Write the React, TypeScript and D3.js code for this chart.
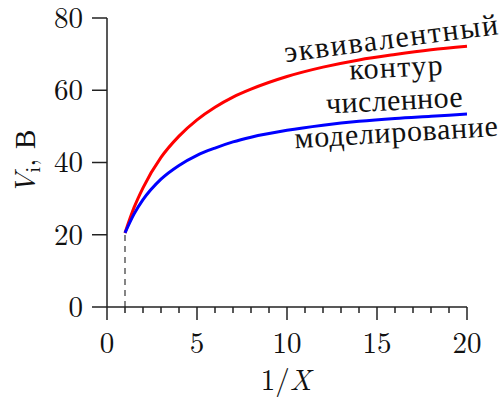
import React from 'react';
import * as d3 from 'd3';

// readings (1/X vs V_i, volts)
const xValues = [1, 1.5, 2, 3, 4, 5, 6, 7, 8, 10, 12, 14, 16, 18, 20];
const equivalentCircuit = [20.5, 27.5, 33, 41.4, 47.3, 51.8, 55.3, 58.1, 60.3, 63.8, 66.4, 68.4, 69.9, 71.2, 72.2];
const numericalModel = [20.5, 25.7, 29.7, 35.4, 39.2, 42, 44, 45.7, 47, 48.9, 50.3, 51.4, 52.2, 52.8, 53.4];
const xTicks = [0, 5, 10, 15, 20];
const xMinorTicks = d3.range(0, 21).filter(v => v % 5 !== 0);
const yTicks = [0, 20, 40, 60, 80];
const seriesLabels = [['эквивалентный', 'контур'], ['численное', 'моделирование']];

const width = 500;
const height = 403;
const font = "'Latin Modern Roman', 'Liberation Serif', serif";
const cyrFont = "'Liberation Serif', serif";
const axisColor = '#222';

const App: React.FC = () => {
  const x = d3.scaleLinear().domain([0, 20]).range([107, 467]);
  const y = d3.scaleLinear().domain([0, 80]).range([307, 18]);

  const line = d3.line<[number, number]>()
    .x(d => x(d[0]))
    .y(d => y(d[1]))
    .curve(d3.curveMonotoneX);

  const red = line(xValues.map((v, i) => [v, equivalentCircuit[i]] as [number, number])) || '';
  const blue = line(xValues.map((v, i) => [v, numericalModel[i]] as [number, number])) || '';

  const textStyle: React.CSSProperties = { fontFamily: font };

  return (
    <svg width={width} height={height} style={{ display: 'block', position: 'absolute', left: 0, top: 0 }}>
      <rect width={width} height={height} fill="#fff" />

      {/* dashed guide at 1/X = 1 */}
      <line x1={x(1)} x2={x(1)} y1={y(0)} y2={y(numericalModel[0])}
        stroke="#444" strokeWidth={1.3} strokeDasharray="6,5" />

      {/* axes */}
      <g stroke={axisColor} strokeWidth={1.5}>
        <line x1={x(0)} x2={x(0)} y1={y(0)} y2={y(80)} />
        <line x1={x(0)} x2={x(20)} y1={y(0)} y2={y(0)} />
        {yTicks.map(t => (
          <line key={'yt' + t} x1={x(0) - 15} x2={x(0)} y1={y(t)} y2={y(t)} />
        ))}
        {xTicks.map(t => (
          <line key={'xt' + t} x1={x(t)} x2={x(t)} y1={y(0)} y2={y(0) + 13} />
        ))}
        {xMinorTicks.map(t => (
          <line key={'xm' + t} x1={x(t)} x2={x(t)} y1={y(0)} y2={y(0) + 6} />
        ))}
      </g>

      <g style={textStyle} fontSize={29} fill="#111">
        {yTicks.map(t => (
          <text key={'yl' + t} x={83} y={y(t)} dy="0.34em" textAnchor="end">{t}</text>
        ))}
        {xTicks.map(t => (
          <text key={'xl' + t} x={x(t)} y={353} textAnchor="middle">{t}</text>
        ))}
      </g>

      {/* curves */}
      <path d={red} fill="none" stroke="#ff0000" strokeWidth={3} />
      <path d={blue} fill="none" stroke="#0000ff" strokeWidth={3} />

      {/* axis titles */}
      <g style={textStyle} fontSize={29} fill="#111">
        <text transform="translate(35,162) rotate(-90)" textAnchor="middle">
          <tspan fontStyle="italic">V</tspan>
          <tspan fontSize={21} dy={5}>i</tspan>
          <tspan dy={-5}>, </tspan>
          <tspan style={{ fontFamily: cyrFont }}>В</tspan>
        </text>
        <text x={286} y={390} textAnchor="middle">
          1/<tspan fontStyle="italic">X</tspan>
        </text>
      </g>

      {/* curve labels */}
      <g style={{ fontFamily: cyrFont }} fontSize={30} fill="#111" textAnchor="middle">
        <text transform="translate(393,48) rotate(-7.5)" letterSpacing={1.7}>{seriesLabels[0][0]}</text>
        <text transform="translate(397,77) rotate(-3)" letterSpacing={1.3}>{seriesLabels[0][1]}</text>
        <text transform="translate(395,110) rotate(-3)" letterSpacing={0.4}>{seriesLabels[1][0]}</text>
        <text transform="translate(397,142) rotate(-3.5)" letterSpacing={0.7}>{seriesLabels[1][1]}</text>
      </g>
    </svg>
  );
};

export default App;
